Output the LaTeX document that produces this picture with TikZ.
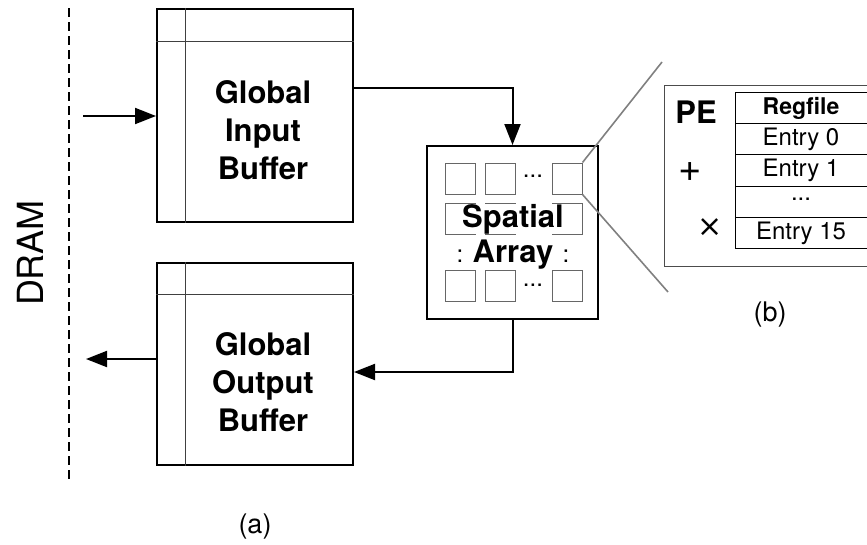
\documentclass[tikz,border=0pt]{standalone}
\usepackage{fontspec}
\setmainfont{TeX Gyre Heros}
\newfontfamily\symbfont{DejaVu Sans}
\usetikzlibrary{arrows.meta,calc}

\newcommand{\fs}[1]{\fontsize{#1}{1.3\dimexpr#1pt\relax}\selectfont}

\tikzset{
  buffer/.style={draw=black, line width=2pt, minimum width=196pt, inner sep=0pt},
  rule/.style={draw=black!75, line width=1pt},
  flow/.style={line width=2pt, -{Triangle[length=21pt,width=16pt]}},
  pecell/.style={draw=black!60, line width=1pt, minimum width=30pt, minimum height=31pt, inner sep=0pt},
  zoomline/.style={draw=black!50, line width=1.6pt},
  bigbold/.style={font=\fs{31}\bfseries, align=center, inner sep=0pt},
  tabtext/.style={font=\fs{24}, inner sep=0pt},
  dotstext/.style={font=\fs{24}, inner sep=0pt},
}

\begin{document}
\begin{tikzpicture}[x=1pt, y=-1pt]
\useasboundingbox (0,0) rectangle (867,544);

% off-chip memory boundary
\draw[line width=1.5pt, dash pattern=on 9pt off 5pt] (69,8) -- (69,481);
\node[rotate=90, font=\fs{36}, inner sep=0pt] (dram) at (30,253) {DRAM};

% global buffers
\node[buffer, minimum height=213pt] (inbuf) at (255,115.5) {};
\node[buffer, minimum height=202pt] (outbuf) at (255,364) {};
\draw[rule] ($(inbuf.north west)+(29,0)$) -- ($(inbuf.south west)+(29,0)$);
\draw[rule] ($(inbuf.north west)+(0,33)$) -- ($(inbuf.north east)+(0,33)$);
\draw[rule] ($(outbuf.north west)+(29,0)$) -- ($(outbuf.south west)+(29,0)$);
\draw[rule] ($(outbuf.north west)+(0,32)$) -- ($(outbuf.north east)+(0,32)$);
\node[bigbold] (inlbl) at (263,130) {Global\\[-2pt]Input\\[-2pt]Buffer};
\node[bigbold] (outlbl) at (263,382) {Global\\[-2pt]Output\\[-2pt]Buffer};

% spatial array of PEs
\node[draw=black, line width=2pt, minimum width=171pt, minimum height=173pt, inner sep=0pt] (sa) at (512.5,232.5) {};
\foreach \r/\y in {1/178.5, 2/219, 3/285.5}{
  \foreach \c/\x in {1/460, 2/500, 3/567}{
    \node[pecell] (pe\r\c) at (\x,\y) {};
  }
}
\node[dotstext] (hd1) at (533,176) {...};
\node[dotstext] (hd3) at (533,285) {...};
\node[dotstext] (vd1) at (460,256) {:};
\node[dotstext] (vd3) at (566,256) {:};
\node[font=\fs{31}\bfseries, fill=white, inner xsep=10pt, inner ysep=0pt] (salbl1) at (513,219) {Spatial};
\node[font=\fs{31}\bfseries, inner sep=0pt] (salbl2) at (513,255) {Array};

% data movement
\coordinate (din) at (83,116);
\coordinate (dout) at (86,359);
\draw[flow] (din) -- (din -| inbuf.west);
\draw[flow] (dout -| outbuf.west) -- (dout);
\draw[flow] ($(inbuf.north east)+(0,80)$) -| (sa.north);
\draw[flow] (sa.south) |- ($(outbuf.north east)+(0,110)$);

% PE detail
\coordinate (zt) at (662,62);
\coordinate (zb) at (668,292);
\draw[zoomline] (pe13.north east) -- (zt);
\draw[zoomline] (pe13.south east) -- (zb);
\draw[draw=black!70, line width=1pt] (880,85) -- (664,85) -- (664,266) -- (880,266);
\draw[line width=1pt] (880,92) -- (735,92) -- (735,248) -- (880,248);
\foreach \y in {123,154,186,217}{
  \draw[line width=1pt] (735,\y) -- (880,\y);
}
\node[font=\fs{31}\bfseries, inner sep=0pt] (pelbl) at (696,112) {PE};
\node[font=\fs{40}, inner sep=0pt] (plus) at (690,172) {+};
\node[font=\symbfont\fs{30}, inner sep=0pt] (times) at (710,228) {×};
\node[tabtext, font=\fs{23}\bfseries] (rf) at (801,108) {Regfile};
\node[tabtext] (e0) at (801,139) {Entry 0};
\node[tabtext] (e1) at (801,170) {Entry 1};
\node[tabtext] (edots) at (801,199) {...};
\node[tabtext] (e15) at (801,233) {Entry 15};

% sub-figure captions
\node[font=\fs{27}, inner sep=0pt] (capa) at (255,527) {(a)};
\node[font=\fs{27}, inner sep=0pt] (capb) at (770,315) {(b)};
\end{tikzpicture}
\end{document}
